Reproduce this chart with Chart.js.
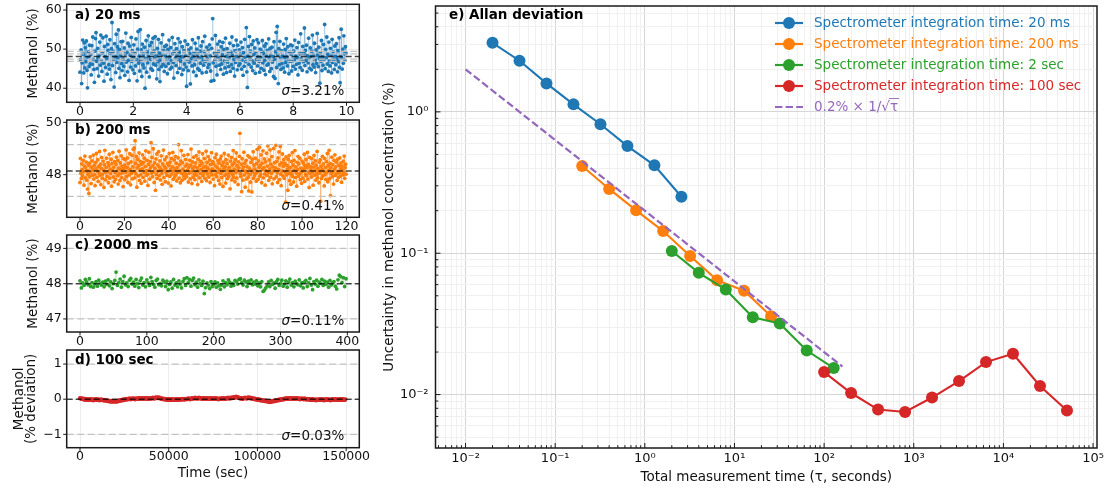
<!DOCTYPE html>
<html lang="en">
<head>
<meta charset="UTF-8">
<title>Methanol stability and Allan deviation</title>
<script src="https://cdn.jsdelivr.net/npm/chart.js"></script>
<style>
  body { margin: 0; background: #ffffff; width: 1117px; height: 491px; overflow: hidden; position: relative; }
  canvas { position: absolute; }
</style>
</head>
<body>
<canvas id="panelA"></canvas>
<canvas id="panelB"></canvas>
<canvas id="panelC"></canvas>
<canvas id="panelD"></canvas>
<canvas id="panelE"></canvas>
<script>
// ---- a) 20 ms integration, one reading every 20 ms (%)
const stepA = 0.02;
const methanolA = [
  44.1,47.3,49.8,41.2,46.5,52.3,48.7,43.9,51.6,45.2,50.4,46.8,52.1,44.6,40.1,47.9,49.3,45.5,51.0,46.2,
  48.6,43.4,50.9,46.1,53.1,47.4,44.8,41.5,49.5,52.7,54.2,46.9,45.0,50.2,47.7,43.1,48.4,51.8,45.9,53.6,
  47.0,44.3,49.0,52.9,46.4,41.8,50.7,48.1,45.3,53.3,47.6,43.6,51.2,49.7,46.0,44.9,52.4,48.9,42.2,50.1,
  56.8,45.8,49.4,47.2,40.3,51.4,48.0,44.0,53.8,46.6,50.6,47.8,54.9,45.1,49.9,42.7,48.3,51.9,46.3,44.5,
  52.0,47.5,45.6,50.3,43.3,48.8,54.1,46.7,49.2,44.2,51.5,47.1,42.0,50.8,48.5,45.4,53.0,46.9,49.6,44.7,
  47.9,51.1,43.8,49.1,45.7,52.6,47.3,41.9,50.0,54.5,46.4,48.2,44.4,55.0,47.0,49.8,43.0,51.3,46.0,48.7,
  45.2,50.5,40.0,47.6,52.2,44.1,49.3,46.5,53.4,48.1,42.9,50.9,47.4,45.0,51.7,48.9,44.6,52.8,46.2,49.5,
  47.8,53.2,45.9,48.4,42.4,50.2,46.8,52.5,44.8,49.0,41.7,47.2,51.6,45.5,48.6,53.7,46.1,49.7,44.3,50.7,
  48.3,45.6,51.0,47.5,43.7,49.9,46.3,52.3,48.0,44.9,50.4,47.1,45.3,53.0,48.8,46.6,42.6,49.4,51.4,47.7,
  45.8,50.1,48.5,44.0,52.7,47.3,49.2,45.1,51.8,46.9,48.1,43.5,50.6,47.9,44.7,49.6,46.2,52.1,48.4,45.4,
  40.5,47.0,51.2,44.5,49.8,46.7,48.9,41.1,50.3,47.6,45.7,52.4,48.2,44.2,49.1,46.0,51.5,47.4,43.2,50.0,
  48.7,45.0,52.9,47.8,44.6,49.5,46.4,50.8,48.0,43.9,51.9,47.2,45.9,49.3,53.3,46.8,48.6,44.1,50.5,47.5,
  45.3,49.7,46.1,51.1,48.3,44.4,41.8,50.2,52.6,57.8,46.5,42.0,49.0,47.1,53.5,45.6,48.8,43.4,51.3,47.9,
  49.4,45.9,52.0,47.3,44.8,50.6,46.2,48.5,51.7,43.6,49.9,47.0,45.2,52.8,48.2,44.0,50.1,46.7,48.9,45.5,
  47.7,51.5,44.3,49.2,46.0,53.1,48.4,45.1,50.9,47.4,43.1,49.6,46.6,52.3,48.1,44.7,51.0,47.6,45.8,49.8,
  46.3,48.7,51.8,44.9,47.2,50.4,43.3,49.1,45.6,52.5,47.9,46.8,55.5,44.2,40.2,48.3,50.7,46.1,53.2,47.5,
  49.5,45.4,51.2,47.0,44.5,52.1,48.6,46.4,50.3,43.8,49.0,47.3,52.4,45.7,48.0,51.6,46.9,44.1,50.0,47.8,
  45.1,49.4,52.2,46.5,48.9,44.6,50.8,47.1,43.5,51.4,48.2,45.9,49.7,46.2,52.6,47.6,44.3,50.2,48.5,45.0,
  50.5,46.7,48.1,43.0,51.9,47.4,42.5,49.3,54.3,45.3,55.8,48.6,41.2,50.1,46.0,52.0,47.7,44.8,49.6,46.3,
  48.4,45.2,51.3,47.9,44.1,49.9,46.6,52.7,48.0,45.7,50.6,47.2,43.7,49.2,46.9,51.1,48.7,44.4,50.9,47.0,
  45.6,49.5,47.3,52.3,44.9,48.2,46.1,50.4,47.8,43.4,51.7,46.4,48.8,45.3,53.9,47.5,49.0,44.6,50.7,46.8,
  48.9,55.4,45.8,49.7,47.1,51.0,44.2,48.3,46.5,52.8,47.7,45.1,50.3,48.1,44.7,49.4,53.6,46.0,48.6,45.4,
  51.5,47.2,44.0,49.8,46.3,54.0,48.4,45.5,50.5,47.6,41.3,49.1,46.9,52.2,44.5,48.0,45.9,51.2,47.4,56.3,
  45.0,49.9,47.8,53.1,46.2,48.7,44.3,51.8,47.0,45.7,50.2,48.5,43.9,52.5,46.6,49.3,47.3,44.8,50.8,48.2,
  46.0,51.4,47.5,44.2,49.6,46.8,52.9,45.3,41.4,48.1,55.1,47.7,44.9,50.0,46.4,53.4,48.8,47.1,50.6,49.0
];
const meanA = 48.1;
const guideA = [46.85, 47.45, 48.8, 49.4];
const sigmaA = '3.21';
const xTicksA = [0, 2, 4, 6, 8, 10];
const yTicksA = [40, 50, 60];

// ---- b) 200 ms integration (%)
const stepB = 0.2;
const methanolB = [
  47.70,48.62,48.05,47.85,48.41,48.20,47.95,48.55,48.12,47.60,48.33,48.71,47.88,48.26,48.48,47.79,48.15,47.45,48.02,48.37,
  47.28,48.44,47.92,48.68,48.10,47.66,48.29,48.53,47.98,48.18,48.75,47.83,48.35,48.00,47.58,48.47,48.22,48.81,47.90,48.14,
  48.57,47.74,48.31,48.06,48.89,47.97,48.40,47.62,48.24,48.66,48.01,47.86,48.52,48.17,47.51,48.38,48.93,48.09,47.80,48.27,
  48.63,47.94,48.11,48.46,47.69,48.34,48.78,47.87,48.21,48.04,48.59,47.56,48.42,48.16,48.85,47.91,48.28,47.73,48.50,48.08,
  47.82,48.39,48.67,48.13,47.96,48.54,47.64,48.25,48.90,48.03,47.77,48.45,48.19,48.72,47.89,48.32,48.07,47.54,48.61,48.23,
  48.36,47.81,48.58,48.10,48.95,47.93,48.28,48.64,47.70,48.43,48.15,47.99,48.80,48.20,47.61,48.49,48.05,48.74,47.84,48.30,
  48.97,48.12,49.02,47.88,49.30,48.44,48.03,48.70,47.52,48.26,48.59,47.95,48.35,48.83,47.78,48.18,48.51,48.00,47.67,48.40,
  48.22,48.76,47.90,48.47,48.09,48.63,47.75,48.31,48.91,48.14,47.98,48.55,48.02,47.59,48.39,48.86,48.17,47.83,48.50,48.27,
  49.22,48.06,48.66,47.92,48.34,48.99,48.11,47.70,48.45,48.24,47.40,48.60,48.01,48.79,47.86,48.37,48.13,48.88,47.96,48.29,
  48.53,47.80,48.20,48.72,48.04,47.63,48.41,48.16,48.94,47.89,48.32,48.57,47.73,48.25,48.08,48.68,47.97,48.43,48.12,47.68,
  48.35,48.81,47.94,48.48,48.19,47.57,48.62,48.03,48.30,48.85,47.82,48.14,48.56,47.91,48.23,48.70,48.00,48.44,47.76,48.27,
  48.09,48.64,49.15,47.87,48.38,48.15,47.69,48.52,48.92,48.05,47.79,48.46,48.21,47.95,48.74,48.11,47.85,48.33,48.58,48.02,
  47.93,48.40,48.17,48.77,47.72,48.28,48.06,48.55,47.84,48.36,48.98,48.12,47.66,48.49,48.24,47.90,48.67,48.01,48.31,47.81,
  48.45,48.10,48.73,47.98,48.26,47.62,48.59,48.14,48.87,47.88,48.35,48.04,48.51,48.20,47.74,48.43,48.80,47.96,48.29,48.08,
  48.62,47.86,48.32,48.13,48.90,47.77,48.47,48.03,48.25,48.69,47.91,48.18,48.56,47.70,48.39,48.07,48.84,47.99,48.22,48.50,
  47.83,48.41,48.16,47.58,48.65,48.00,48.33,48.78,47.92,48.27,48.09,48.54,47.78,48.44,48.19,47.64,48.60,48.05,48.71,47.89,
  48.36,48.12,47.55,48.48,48.23,48.81,47.97,48.30,47.68,48.57,48.02,48.42,47.85,48.17,48.75,47.94,48.28,48.06,47.46,48.52,
  48.14,48.66,47.80,48.38,48.01,48.92,47.90,48.45,48.20,47.73,48.58,48.09,48.83,47.87,48.34,48.15,47.62,48.49,48.26,48.70,
  49.58,48.04,47.93,48.40,47.35,48.61,48.18,47.79,48.29,48.86,47.99,48.44,47.52,48.13,48.55,47.84,48.31,48.07,48.73,47.91,
  47.38,48.25,48.67,48.02,47.71,48.47,48.16,47.34,48.59,48.10,48.88,47.86,48.37,47.96,48.21,48.63,48.05,47.75,48.42,48.97,
  48.11,47.82,48.53,48.28,49.05,47.94,48.35,48.01,48.76,47.69,48.44,48.19,48.91,47.88,48.27,48.60,48.03,47.60,48.49,48.15,
  48.82,47.97,48.33,49.10,48.08,47.78,48.56,48.22,48.95,47.90,48.40,48.04,48.69,47.65,48.30,48.13,49.00,47.84,48.46,48.18,
  48.26,49.12,47.92,48.51,48.07,47.70,48.64,48.20,48.87,47.81,48.38,49.08,48.02,47.58,48.45,48.14,48.79,47.95,48.32,48.57,
  47.86,48.43,48.10,46.95,48.68,47.99,48.35,48.21,47.40,48.59,48.05,48.74,47.77,48.28,48.12,47.63,48.50,48.01,48.84,47.93,
  48.37,47.72,48.55,48.16,48.92,47.89,48.30,48.06,47.56,48.47,48.19,48.70,47.94,48.41,48.03,48.63,47.81,48.25,48.09,47.67,
  48.52,48.13,47.87,48.45,48.22,48.78,47.74,48.34,48.01,48.58,47.96,48.27,48.85,47.83,48.39,48.10,47.51,48.66,48.04,48.31,
  48.20,47.91,48.61,48.07,48.44,47.60,48.29,48.74,47.98,48.15,48.53,47.79,48.36,48.02,48.89,47.88,48.24,48.11,47.69,48.48,
  48.06,48.57,46.98,48.32,47.85,48.19,48.70,47.95,48.41,48.13,47.57,48.62,48.00,48.28,47.82,48.50,48.09,48.81,47.73,48.35,
  48.16,48.93,47.84,48.43,47.20,48.26,48.05,48.67,47.92,48.38,48.11,47.64,48.55,48.21,48.76,47.97,48.30,48.03,48.47,47.78,
  48.59,48.12,47.89,48.36,48.07,48.64,47.94,48.24,48.45,47.71,48.33,48.18,47.99,48.52,48.10,48.71,47.86,48.27,48.40,48.02
];
const meanB = 48.14;
const guideB = [47.17, 49.15];
const sigmaB = '0.41';
const xTicksB = [0, 20, 40, 60, 80, 100, 120];
const yTicksB = [48, 50];

// ---- c) 2000 ms integration (%)
const stepC = 2;
const methanolC = [
  48.08,47.88,48.02,47.95,48.12,48.05,47.97,48.14,47.92,48.03,47.90,47.99,48.06,47.93,48.10,48.01,47.96,48.04,47.91,48.07,
  47.98,48.11,47.94,48.05,47.86,48.00,48.09,48.33,47.95,48.03,48.13,47.90,48.06,48.21,47.97,48.02,47.92,48.10,48.15,47.99,
  48.04,47.93,48.12,48.00,47.89,48.08,48.16,47.96,48.03,47.91,48.11,48.02,47.95,48.18,48.06,47.98,47.90,48.09,48.13,47.97,
  48.01,47.94,48.10,48.04,47.92,48.07,47.83,47.98,48.05,47.87,48.12,47.96,48.02,47.91,48.08,47.99,47.88,48.06,48.14,47.95,
  48.17,48.03,48.12,47.93,48.09,48.16,47.97,48.04,47.90,48.11,48.00,47.95,48.07,47.72,47.89,48.02,47.96,47.86,48.06,47.92,
  47.98,48.05,47.90,48.02,47.94,47.84,47.96,48.08,47.91,48.03,47.97,48.11,48.04,47.93,48.01,47.95,48.09,48.06,47.99,48.12,
  48.14,48.03,47.96,48.10,48.05,47.92,48.07,48.01,48.11,47.97,48.04,47.99,48.08,47.94,48.02,47.91,48.06,47.78,47.82,47.88,
  47.94,48.05,47.92,48.09,47.98,48.02,47.87,48.06,48.12,47.95,48.01,48.10,47.93,47.99,48.08,47.90,48.04,48.13,47.96,48.03,
  47.91,48.07,48.00,47.97,48.11,47.94,48.03,47.88,48.05,48.09,47.92,48.02,48.15,47.96,47.83,48.06,47.99,48.10,47.93,48.04,
  48.01,48.12,47.95,48.07,47.98,48.04,47.90,48.09,47.96,48.02,48.06,47.93,47.85,48.11,48.24,48.20,48.03,48.17,47.92,48.14
];
const meanC = 48.0;
const guideC = [47, 49];
const sigmaC = '0.11';
const xTicksC = [0, 100, 200, 300, 400];
const yTicksC = [47, 48, 49];

// ---- d) 100 sec integration (% deviation)
const stepD = 500;
const deviationD = [
  0.03,0.02,0.01,0.02,0.00,-0.01,0.01,-0.02,-0.01,0.00,-0.02,-0.01,0.00,-0.02,-0.01,-0.03,-0.01,-0.02,0.00,-0.01,-0.02,-0.01,-0.03,-0.02,-0.01,-0.02,-0.03,-0.02,-0.04,-0.03,
  -0.04,-0.05,-0.04,-0.06,-0.05,-0.07,-0.06,-0.05,-0.07,-0.06,-0.05,-0.07,-0.06,-0.04,-0.05,-0.03,-0.04,-0.02,-0.03,-0.01,-0.02,0.00,-0.01,0.01,0.00,0.01,0.02,0.00,0.01,0.02,
  0.01,0.02,0.00,0.01,0.02,0.01,0.03,0.02,0.01,0.02,0.03,0.01,0.02,0.03,0.02,0.01,0.03,0.02,0.01,0.02,0.03,0.02,0.04,0.03,0.02,0.04,0.05,0.03,0.04,0.05,
  0.03,0.02,0.01,0.02,0.00,0.01,-0.01,0.00,-0.01,-0.02,0.00,-0.01,-0.02,-0.01,0.00,-0.02,-0.01,-0.02,-0.01,0.00,-0.01,-0.02,-0.01,0.00,-0.01,0.00,0.01,-0.01,0.00,0.01,
  0.00,0.01,0.02,0.01,0.00,0.02,0.01,0.03,0.02,0.03,0.04,0.02,0.03,0.02,0.04,0.03,0.02,0.03,0.01,0.02,0.03,0.02,0.01,0.03,0.02,0.01,0.02,0.03,0.01,0.02,
  0.02,0.01,0.03,0.02,0.01,0.02,0.00,0.01,0.02,0.01,0.02,0.03,0.02,0.01,0.02,0.03,0.02,0.04,0.03,0.02,0.04,0.03,0.05,0.04,0.06,0.05,0.07,0.06,0.05,0.04,
  0.03,0.02,0.03,0.01,0.02,0.03,0.04,0.03,0.02,0.04,0.05,0.03,0.04,0.02,0.03,0.01,0.02,0.00,0.01,-0.01,0.00,-0.02,-0.01,-0.03,-0.02,-0.04,-0.03,-0.04,-0.05,-0.04,
  -0.06,-0.05,-0.07,-0.06,-0.08,-0.06,-0.07,-0.05,-0.06,-0.04,-0.05,-0.03,-0.04,-0.02,-0.03,-0.01,-0.02,0.00,-0.01,0.01,0.00,0.02,0.01,0.02,0.03,0.01,0.02,0.03,0.02,0.01,
  0.02,0.03,0.01,0.02,0.03,0.02,0.01,0.02,0.00,0.01,0.02,0.01,0.00,0.02,0.01,-0.01,0.00,0.01,-0.01,0.00,-0.02,-0.01,0.00,-0.02,-0.01,-0.02,-0.03,-0.01,-0.02,-0.01,
  -0.02,-0.01,0.00,-0.02,-0.01,-0.03,-0.01,-0.02,0.00,-0.01,-0.02,-0.01,-0.03,-0.02,0.00,-0.01,-0.02,-0.01,0.00,-0.02,-0.01,-0.02,-0.01,0.00,-0.02,-0.01,0.00,-0.01,-0.02,-0.01
];
const meanD = 0;
const guideD = [-1, 1];
const sigmaD = '0.03';
const xTicksD = [0, 50000, 100000, 150000];
const yTicksD = [-1, 0, 1];
const yLabelsD = ['\u22121', '0', '1'];

// ---- e) Allan deviation (tau in s, deviation in %)
const tauBlue = [0.02, 0.04, 0.08, 0.16, 0.32, 0.64, 1.28, 2.56];
const adevBlue = [3.08, 2.30, 1.59, 1.13, 0.818, 0.573, 0.419, 0.251];
const tauOrange = [0.2, 0.4, 0.8, 1.6, 3.2, 6.4, 12.8, 25.6];
const adevOrange = [0.414, 0.285, 0.201, 0.1435, 0.0957, 0.0645, 0.0543, 0.0358];
const tauGreen = [2, 4, 8, 16, 32, 64, 128];
const adevGreen = [0.1038, 0.0727, 0.0554, 0.0352, 0.0318, 0.0205, 0.0154];
const tauRed = [100, 200, 400, 800, 1600, 3200, 6400, 12800, 25600, 51200];
const adevRed = [0.01443, 0.01026, 0.00784, 0.00754, 0.00953, 0.01247, 0.01698, 0.01944, 0.0115, 0.00771];
const tauRef = [0.01, 160];
const adevRef = [2.0, 0.0158];
const decadeTicksX = [1e-2, 1e-1, 1, 1e1, 1e2, 1e3, 1e4, 1e5];
const decadeLabelsX = ['10\u207b\u00b2', '10\u207b\u00b9', '10\u2070', '10\u00b9', '10\u00b2', '10\u00b3', '10\u2074', '10\u2075'];
const decadeTicksY = [1e-2, 1e-1, 1];
const decadeLabelsY = ['10\u207b\u00b2', '10\u207b\u00b9', '10\u2070'];

const FONT = '"DejaVu Sans", sans-serif';
Chart.defaults.font.family = FONT;
Chart.defaults.color = '#111';

function isDecade(v) {
  const l = Math.log10(v);
  return Math.abs(l - Math.round(l)) < 1e-6;
}

// frame, tick marks, panel title and sigma text
const axesDeco = {
  id: 'axesDeco',
  afterDatasetsDraw(chart, args, o) {
    const { ctx, chartArea: a } = chart;
    const sx = chart.scales.x, sy = chart.scales.y;
    const dir = o.inward ? -1 : 1;
    ctx.save();
    ctx.strokeStyle = '#1a1a1a';
    ctx.lineWidth = 1;
    sx.ticks.forEach(t => {
      const p = sx.getPixelForValue(t.value);
      if (p < a.left - 0.5 || p > a.right + 0.5) return;
      const len = o.log && !isDecade(t.value) ? o.minor : o.major;
      ctx.beginPath(); ctx.moveTo(p, a.bottom); ctx.lineTo(p, a.bottom + dir * len); ctx.stroke();
    });
    sy.ticks.forEach(t => {
      const p = sy.getPixelForValue(t.value);
      if (p < a.top - 0.5 || p > a.bottom + 0.5) return;
      const len = o.log && !isDecade(t.value) ? o.minor : o.major;
      ctx.beginPath(); ctx.moveTo(a.left, p); ctx.lineTo(a.left - dir * len, p); ctx.stroke();
    });
    ctx.lineWidth = 1.5;
    ctx.strokeRect(a.left, a.top, a.right - a.left, a.bottom - a.top);

    ctx.fillStyle = '#000';
    ctx.textBaseline = 'middle';
    ctx.textAlign = 'left';
    ctx.font = 'bold 13.5px ' + FONT;
    ctx.fillText(o.title, a.left + o.tx, a.top + o.ty);
    if (o.sigma) {
      const rest = '=' + o.sigma + '%';
      const xr = a.right - 15, yc = a.bottom - 11;
      ctx.font = '13.5px ' + FONT;
      ctx.textAlign = 'right';
      ctx.fillStyle = '#111';
      ctx.fillText(rest, xr, yc);
      const w = ctx.measureText(rest).width;
      ctx.font = 'italic 13.5px ' + FONT;
      ctx.fillText('\u03c3', xr - w, yc);
    }
    ctx.restore();
  }
};

// legend with line + marker, text in series colour
const sideLegend = {
  id: 'sideLegend',
  afterDraw(chart, args, o) {
    if (!o.show) return;
    const ctx = chart.ctx;
    ctx.save();
    ctx.textBaseline = 'middle';
    ctx.textAlign = 'left';
    ctx.font = '13.5px ' + FONT;
    chart.data.datasets.forEach((ds, i) => {
      const y = o.y0 + i * o.dy;
      ctx.strokeStyle = ds.borderColor;
      ctx.lineWidth = 2.2;
      ctx.setLineDash(ds.borderDash || []);
      ctx.beginPath(); ctx.moveTo(o.x0, y); ctx.lineTo(o.x1, y); ctx.stroke();
      ctx.setLineDash([]);
      if (ds.pointRadius > 0) {
        ctx.fillStyle = ds.borderColor;
        ctx.beginPath(); ctx.arc((o.x0 + o.x1) / 2, y, 6, 0, Math.PI * 2); ctx.fill();
      }
      ctx.fillStyle = ds.borderColor;
      ctx.fillText(ds.label, o.tx, y);
      if (ds.sqrtBar) {
        const full = ctx.measureText(ds.label).width;
        const tw = ctx.measureText(ds.label.slice(-1)).width;
        ctx.strokeStyle = ds.borderColor;
        ctx.lineWidth = 0.9;
        ctx.beginPath(); ctx.moveTo(o.tx + full - tw - 1, y - 8.5); ctx.lineTo(o.tx + full + 1, y - 8.5); ctx.stroke();
      }
    });
    ctx.restore();
  }
};

function place(id, box) {
  const cv = document.getElementById(id);
  cv.width = box.w; cv.height = box.h;
  cv.style.left = box.x + 'px'; cv.style.top = box.y + 'px';
  cv.style.width = box.w + 'px'; cv.style.height = box.h + 'px';
  return cv;
}

function hline(v, xr, color, width, dash, order) {
  return {
    data: [{ x: xr[0], y: v }, { x: xr[1], y: v }],
    showLine: true, borderColor: color, borderWidth: width, borderDash: dash,
    pointRadius: 0, order: order
  };
}

function noPad(s) {
  s.paddingTop = 0; s.paddingBottom = 0; s.paddingLeft = 0; s.paddingRight = 0;
}

function leftPanel(id, box, area, p) {
  const cv = place(id, box);
  const pts = p.values.map((v, i) => ({ x: i * p.step, y: v }));
  const datasets = [
    { data: pts, showLine: true, borderColor: p.lineColor, borderWidth: 1,
      pointRadius: p.r, pointBackgroundColor: p.color, pointBorderWidth: 0, order: 3 }
  ];
  p.guides.forEach(g => datasets.push(hline(g, p.xr, '#c2c2c2', 1.3, [7, 3.5], 2)));
  datasets.push(hline(p.mean, p.xr, 'rgba(0,0,0,0.72)', 1.4, [6, 3], 1));

  new Chart(cv, {
    type: 'scatter',
    data: { datasets },
    options: {
      responsive: false, animation: false, events: [],
      layout: { padding: { left: 0, top: area.t - box.y, right: box.x + box.w - area.r, bottom: 0 } },
      plugins: {
        legend: { display: false }, tooltip: { enabled: false },
        axesDeco: { title: p.title, sigma: p.sigma, tx: 8.3, ty: 10.7, major: 3.5, minor: 2, inward: false, log: false }
      },
      scales: {
        x: {
          type: 'linear', min: p.xr[0], max: p.xr[1],
          afterBuildTicks: s => { s.ticks = p.xt.map(v => ({ value: v })); },
          afterFit: s => { s.height = box.y + box.h - area.b; noPad(s); },
          ticks: { callback: (v, i) => String(p.xt[i]), font: { size: 12.5 }, padding: 2, maxRotation: 0, autoSkip: false },
          grid: { color: '#ececec', drawTicks: false },
          border: { display: false },
          title: p.xTitle ? { display: true, text: p.xTitle, font: { size: 13.5 }, padding: { top: 0, bottom: 9 } } : { display: false }
        },
        y: {
          type: 'linear', min: p.yr[0], max: p.yr[1],
          afterBuildTicks: s => { s.ticks = p.yt.map(v => ({ value: v })); },
          afterFit: s => { s.width = area.l - box.x; noPad(s); },
          ticks: { callback: (v, i) => (p.yl ? p.yl[i] : String(p.yt[i])), font: { size: 12.5 }, padding: 5, autoSkip: false },
          grid: { color: '#ececec', drawTicks: false },
          border: { display: false },
          title: { display: true, text: p.yTitle, font: { size: 13.5, lineHeight: p.yLH }, padding: { top: p.yPad, bottom: 0 } }
        }
      }
    },
    plugins: [axesDeco]
  });
}

leftPanel('panelA', { x: 0, y: 0, w: 380, h: 120 }, { l: 66.7, t: 4.3, r: 359.3, b: 102.3 }, {
  values: methanolA, step: stepA, color: '#1f77b4', lineColor: 'rgba(31,119,180,0.22)', r: 1.9,
  mean: meanA, guides: guideA, xr: [-0.5, 10.48], yr: [36.4, 61.46], xt: xTicksA, yt: yTicksA,
  title: 'a) 20 ms', sigma: sigmaA, yTitle: 'Methanol (%)', yLH: 1.2, yPad: 25
});
leftPanel('panelB', { x: 0, y: 106, w: 380, h: 125 }, { l: 66.7, t: 120, r: 359.3, b: 217.3 }, {
  values: methanolB, step: stepB, color: '#ff7f0e', lineColor: 'rgba(255,127,14,0.22)', r: 1.9,
  mean: meanB, guides: guideB, xr: [-5.99, 125.79], yr: [46.37, 50.09], xt: xTicksB, yt: yTicksB,
  title: 'b) 200 ms', sigma: sigmaB, yTitle: 'Methanol (%)', yLH: 1.2, yPad: 25
});
leftPanel('panelC', { x: 0, y: 221, w: 380, h: 127 }, { l: 66.7, t: 235, r: 359.3, b: 332 }, {
  values: methanolC, step: stepC, color: '#2ca02c', lineColor: 'rgba(44,160,44,0.22)', r: 1.9,
  mean: meanC, guides: guideC, xr: [-19.9, 417.9], yr: [46.63, 49.38], xt: xTicksC, yt: yTicksC,
  title: 'c) 2000 ms', sigma: sigmaC, yTitle: 'Methanol (%)', yLH: 1.2, yPad: 25
});
leftPanel('panelD', { x: 0, y: 336, w: 380, h: 155 }, { l: 66.7, t: 350, r: 359.3, b: 447.7 }, {
  values: deviationD, step: stepD, color: '#d62728', lineColor: 'rgba(214,39,40,0.5)', r: 2.2,
  mean: meanD, guides: guideD, xr: [-7495, 157395], yr: [-1.38, 1.40], xt: xTicksD, yt: yTicksD, yl: yLabelsD,
  title: 'd) 100 sec', sigma: sigmaD, yTitle: ['Methanol', '(% deviation)'], yLH: 0.95, yPad: 12.6,
  xTitle: 'Time (sec)'
});

// ---- right panel
(function () {
  const box = { x: 370, y: 0, w: 747, h: 491 };
  const area = { l: 435.5, t: 4, r: 1097, b: 448 };
  const xMin = 0.004624, xMax = 110700, yMin = 0.00419, yMax = 5.61;
  const cv = place('panelE', box);

  const allTicks = (lo, hi) => {
    const out = [];
    for (let e = -4; e <= 6; e++) {
      for (let m = 1; m <= 9; m++) {
        const v = m * Math.pow(10, e);
        if (v >= lo * 0.999999 && v <= hi * 1.000001) out.push(v);
      }
    }
    return out;
  };
  const labelFor = (v, ticks, labels) => {
    const i = ticks.findIndex(t => Math.abs(t - v) / t < 1e-6);
    return i >= 0 ? labels[i] : '';
  };
  const series = (label, color, xs, ys, order) => ({
    label, data: xs.map((x, i) => ({ x, y: ys[i] })), showLine: true,
    borderColor: color, backgroundColor: color, pointBackgroundColor: color,
    borderWidth: 2.1, pointRadius: 6, pointBorderWidth: 0, order
  });
  const gridColor = ctx => (ctx.tick && isDecade(ctx.tick.value) ? '#d6d6d6' : '#f0f0f0');

  new Chart(cv, {
    type: 'scatter',
    data: {
      datasets: [
        series('Spectrometer integration time: 20 ms', '#1f77b4', tauBlue, adevBlue, 5),
        series('Spectrometer integration time: 200 ms', '#ff7f0e', tauOrange, adevOrange, 4),
        series('Spectrometer integration time: 2 sec', '#2ca02c', tauGreen, adevGreen, 3),
        series('Spectrometer integration time: 100 sec', '#d62728', tauRed, adevRed, 2),
        {
          label: '0.2% \u00d7 1/\u221a\u03c4', sqrtBar: true,
          data: tauRef.map((x, i) => ({ x, y: adevRef[i] })), showLine: true,
          borderColor: '#9467bd', borderWidth: 2.2, borderDash: [7.4, 3.2], pointRadius: 0, order: 1
        }
      ]
    },
    options: {
      responsive: false, animation: false, events: [],
      layout: { padding: { left: 0, top: area.t - box.y, right: box.x + box.w - area.r, bottom: 0 } },
      plugins: {
        legend: { display: false }, tooltip: { enabled: false },
        axesDeco: { title: 'e) Allan deviation', tx: 13.5, ty: 9.5, major: 5, minor: 2.8, inward: true, log: true },
        sideLegend: { show: true, x0: 405, x1: 433, tx: 444, y0: 23, dy: 21 }
      },
      scales: {
        x: {
          type: 'logarithmic', min: xMin, max: xMax,
          afterBuildTicks: s => { s.ticks = allTicks(xMin, xMax).map(v => ({ value: v })); },
          afterFit: s => { s.height = box.y + box.h - area.b; noPad(s); },
          ticks: { callback: v => labelFor(v, decadeTicksX, decadeLabelsX), font: { size: 13 }, padding: 3, maxRotation: 0, autoSkip: false },
          grid: { color: gridColor, drawTicks: false },
          border: { display: false },
          title: { display: true, text: 'Total measurement time (\u03c4, seconds)', font: { size: 13.5 }, padding: { top: 0, bottom: 5 } }
        },
        y: {
          type: 'logarithmic', min: yMin, max: yMax,
          afterBuildTicks: s => { s.ticks = allTicks(yMin, yMax).map(v => ({ value: v })); },
          afterFit: s => { s.width = area.l - box.x; noPad(s); },
          ticks: { callback: v => labelFor(v, decadeTicksY, decadeLabelsY), font: { size: 13 }, padding: 7, autoSkip: false },
          grid: { color: gridColor, drawTicks: false },
          border: { display: false },
          title: { display: true, text: 'Uncertainty in methanol concentration (%)', font: { size: 13.5 }, padding: { top: 11, bottom: 0 } }
        }
      }
    },
    plugins: [axesDeco, sideLegend]
  });
})();
</script>
</body>
</html>
